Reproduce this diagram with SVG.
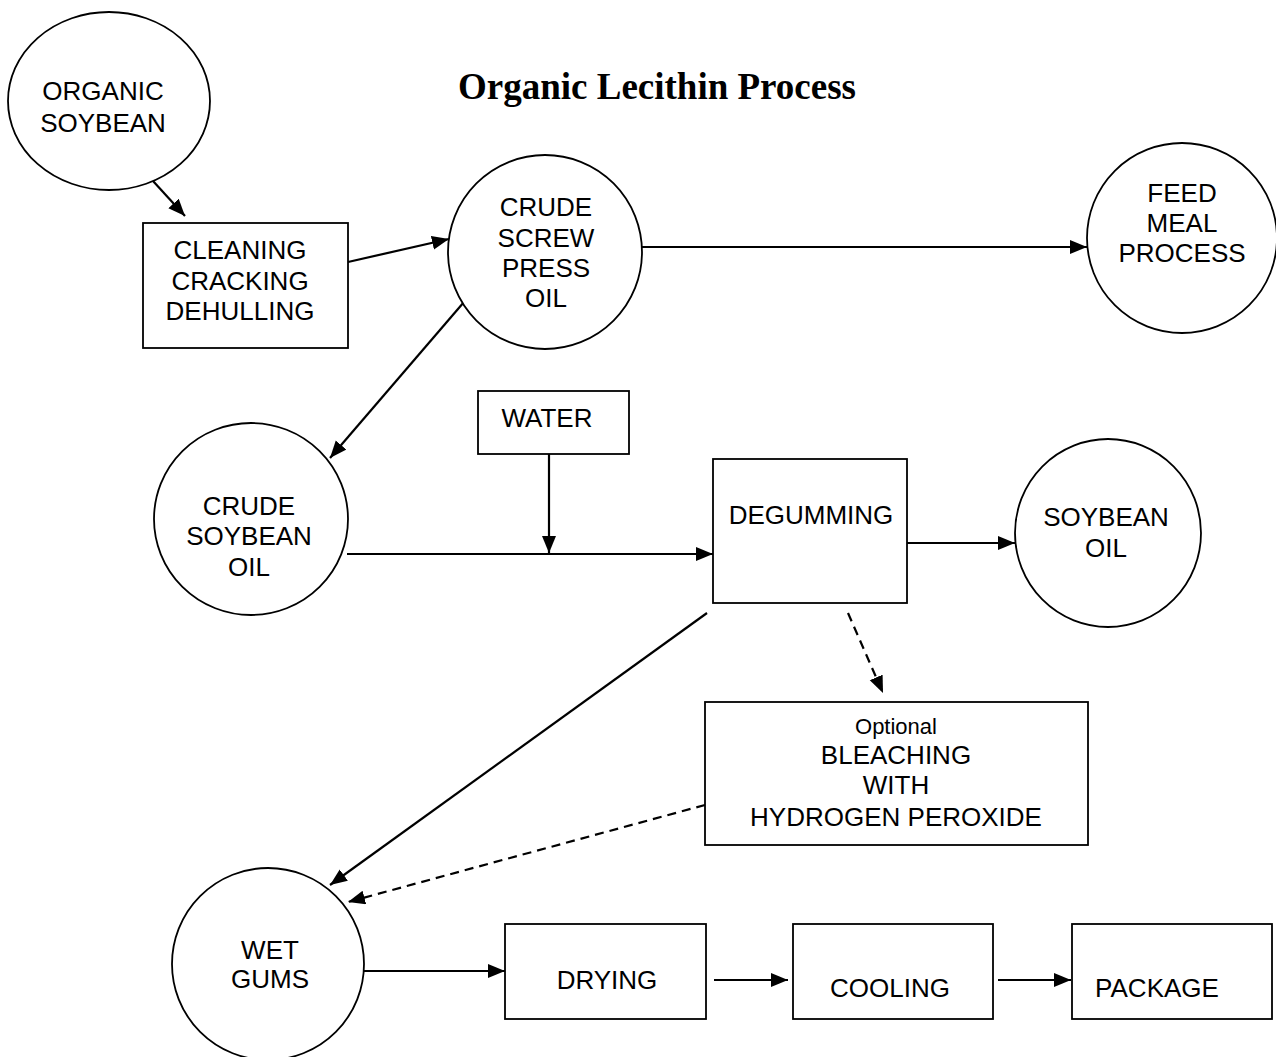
<svg xmlns="http://www.w3.org/2000/svg" width="1276" height="1057" viewBox="0 0 1276 1057">
<defs>
<style>
.n{fill:#fff;stroke:#000;stroke-width:1.8}
.t{font-family:"Liberation Sans",Arial,sans-serif;font-size:26px;fill:#000;text-anchor:middle}
.s{font-size:22px}
.title{font-family:"Liberation Serif","Times New Roman",serif;font-size:37px;font-weight:bold;fill:#000;text-anchor:middle}
.c{stroke:#000;stroke-width:2.2;fill:none}
.d{stroke-dasharray:9 6}
</style>
<marker id="ah" markerUnits="userSpaceOnUse" markerWidth="20" markerHeight="16" refX="17" refY="7" orient="auto">
<path d="M0,0 L17,7 L0,14 z" fill="#000"/>
</marker>
</defs>
<rect width="1276" height="1057" fill="#fff"/>
<text class="title" x="657" y="99">Organic Lecithin Process</text>

<g id="connectors">
<line class="c" x1="153" y1="181" x2="185" y2="216" marker-end="url(#ah)"/>
<line class="c" x1="348" y1="262" x2="449" y2="239" marker-end="url(#ah)"/>
<line class="c" x1="642" y1="247" x2="1087" y2="247" marker-end="url(#ah)"/>
<line class="c" x1="464" y1="302" x2="330" y2="458" marker-end="url(#ah)"/>
<line class="c" x1="549" y1="454" x2="549" y2="553" marker-end="url(#ah)"/>
<line class="c" x1="347" y1="554" x2="713" y2="554" marker-end="url(#ah)"/>
<line class="c" x1="907" y1="543" x2="1015" y2="543" marker-end="url(#ah)"/>
<line class="c d" x1="848" y1="613" x2="883" y2="693" marker-end="url(#ah)"/>
<line class="c" x1="707" y1="613" x2="330" y2="885" marker-end="url(#ah)"/>
<line class="c d" x1="705" y1="805" x2="348" y2="902" marker-end="url(#ah)"/>
<line class="c" x1="364" y1="971" x2="505" y2="971" marker-end="url(#ah)"/>
<line class="c" x1="714" y1="980" x2="788" y2="980" marker-end="url(#ah)"/>
<line class="c" x1="998" y1="980" x2="1071" y2="980" marker-end="url(#ah)"/>
</g>

<g id="organic-soybean">
<ellipse class="n" cx="109" cy="101" rx="101" ry="89"/>
<text class="t" x="103" y="100">ORGANIC</text>
<text class="t" x="103" y="132">SOYBEAN</text>
</g>

<g id="cleaning">
<rect class="n" x="143" y="223" width="205" height="125"/>
<text class="t" x="240" y="259">CLEANING</text>
<text class="t" x="240" y="290">CRACKING</text>
<text class="t" x="240" y="320">DEHULLING</text>
</g>

<g id="crude-screw-press-oil">
<circle class="n" cx="545" cy="252" r="97"/>
<text class="t" x="546" y="216">CRUDE</text>
<text class="t" x="546" y="247">SCREW</text>
<text class="t" x="546" y="277">PRESS</text>
<text class="t" x="546" y="307">OIL</text>
</g>

<g id="feed-meal-process">
<ellipse class="n" cx="1182" cy="238" rx="95" ry="95"/>
<text class="t" x="1182" y="202">FEED</text>
<text class="t" x="1182" y="232">MEAL</text>
<text class="t" x="1182" y="262">PROCESS</text>
</g>

<g id="water">
<rect class="n" x="478" y="391" width="151" height="63"/>
<text class="t" x="547" y="427">WATER</text>
</g>

<g id="crude-soybean-oil">
<ellipse class="n" cx="251" cy="519" rx="97" ry="96"/>
<text class="t" x="249" y="515">CRUDE</text>
<text class="t" x="249" y="545">SOYBEAN</text>
<text class="t" x="249" y="576">OIL</text>
</g>

<g id="degumming">
<rect class="n" x="713" y="459" width="194" height="144"/>
<text class="t" x="811" y="524">DEGUMMING</text>
</g>

<g id="soybean-oil">
<ellipse class="n" cx="1108" cy="533" rx="93" ry="94"/>
<text class="t" x="1106" y="526">SOYBEAN</text>
<text class="t" x="1106" y="557">OIL</text>
</g>

<g id="bleaching">
<rect class="n" x="705" y="702" width="383" height="143"/>
<text class="t s" x="896" y="734">Optional</text>
<text class="t" x="896" y="764">BLEACHING</text>
<text class="t" x="896" y="794">WITH</text>
<text class="t" x="896" y="826">HYDROGEN PEROXIDE</text>
</g>

<g id="wet-gums">
<ellipse class="n" cx="268" cy="964" rx="96" ry="96"/>
<text class="t" x="270" y="959">WET</text>
<text class="t" x="270" y="988">GUMS</text>
</g>

<g id="drying">
<rect class="n" x="505" y="924" width="201" height="95"/>
<text class="t" x="607" y="989">DRYING</text>
</g>

<g id="cooling">
<rect class="n" x="793" y="924" width="200" height="95"/>
<text class="t" x="890" y="997">COOLING</text>
</g>

<g id="package">
<rect class="n" x="1072" y="924" width="200" height="95"/>
<text class="t" x="1157" y="997">PACKAGE</text>
</g>
</svg>
